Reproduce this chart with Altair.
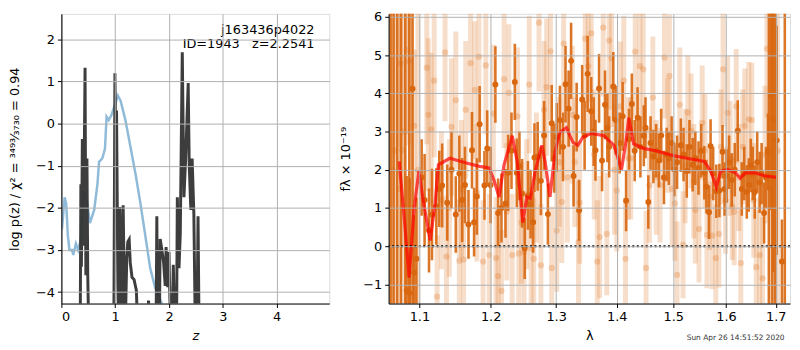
import altair as alt
import pandas as pd

# ---------------- Left panel: redshift PDF ----------------
blue_z = [0.01, 0.06, 0.09, 0.12, 0.15, 0.20, 0.22, 0.27, 0.31, 0.36, 0.41, 0.47, 0.53, 0.61,
          0.67, 0.70, 0.76, 0.81, 0.84, 0.88, 0.93, 0.98, 1.05, 1.10, 1.19, 1.28, 1.38, 1.47,
          1.56, 1.65, 1.74, 1.87, 1.95]
blue_logp = [-2.51, -1.75, -1.90, -2.66, -3.00, -3.00, -3.12, -2.85, -3.00, -2.77, -1.60, -1.82,
             -2.36, -2.05, -1.44, -0.91, -0.83, -0.60, 0.16, 0.08, 0.20, 0.39, 0.66, 0.54, 0.08,
             -0.53, -1.21, -1.90, -2.66, -3.43, -3.88, -4.28, -4.80]

dark_z = [0.35, 0.362, 0.372, 0.39, 0.41, 0.44, 0.455, 0.475, 0.49, 0.51,
          0.975, 0.995, 1.01, 1.025, 1.05, 1.065, 1.087, 1.11, 1.148, 1.17, 1.185, 1.215,
          1.234, 1.26, 1.28, 1.313, 1.35, 1.394, 1.42,
          1.60, 1.62, 1.64, 1.76, 1.774, 1.79, 1.82, 1.836, 1.865, 1.90, 1.93, 1.946, 1.976,
          2.0, 2.03, 2.06, 2.08, 2.11, 2.14, 2.155, 2.186, 2.21, 2.247, 2.278, 2.31, 2.357,
          2.376, 2.406, 2.43, 2.462, 2.49, 2.52, 2.54, 2.56]
dark_logp = [-5.0, -1.44, -3.40, -0.37, -2.90, 1.32, -3.60, -0.83, -3.60, -5.0,
             -5.0, 1.19, -0.50, 0.31, -3.80, -5.0, -1.98, -5.0, -1.94, -3.90, -5.0, -3.20,
             -2.81, -2.75, -3.30, -3.65, -3.70, -3.96, -5.0,
             -5.0, -4.20, -5.0, -5.0, -2.20, -5.0, -5.0, -2.74, -2.97, -3.30, -3.85, -2.93, -3.88,
             -3.05, -5.0, -5.0, -3.35, -5.0, -5.0, -1.75, -3.43, -2.60, 1.69, -1.75, -0.83, 0.96,
             -0.98, -2.05, -0.83, -2.13, -5.0, -5.0, -2.20, -5.0]

z_ticks = [0, 1, 2, 3, 4]
logp_ticks = [-4, -3, -2, -1, 0, 1, 2]

# ---------------- Right panel: spectrum ----------------
model_lam = [1.0731, 1.0796, 1.0862, 1.0927, 1.0992, 1.1058, 1.1146, 1.1213, 1.1258, 1.1417,
             1.1649, 1.1837, 1.1980, 1.2052, 1.2124, 1.2198, 1.2322, 1.2396, 1.2480, 1.2544,
             1.2597, 1.2671, 1.2775, 1.2825, 1.2903, 1.2981, 1.3059, 1.3164, 1.3269, 1.3349,
             1.3430, 1.3566, 1.3784, 1.3951, 1.4081, 1.4149, 1.4207, 1.4291, 1.4465, 1.4699,
             1.5000, 1.5303, 1.5579, 1.5705, 1.5811, 1.5895, 1.6024, 1.6184, 1.6281, 1.6379,
             1.6576, 1.6777, 1.7017]
model_flux = [2.22, 0.78, -0.82, 0.95, 1.96, 1.12, 0.15, 1.12, 2.13, 2.30,
              2.18, 2.09, 2.05, 1.71, 1.29, 2.13, 2.89, 2.22, 0.62, 1.29,
              1.25, 1.96, 2.64, 2.22, 1.29, 2.47, 2.98, 3.10, 2.72, 2.64,
              2.85, 2.95, 2.89, 2.64, 2.01, 2.64, 3.36, 2.68, 2.56, 2.49,
              2.37, 2.29, 2.22, 1.96, 1.54, 1.96, 2.01, 1.92, 1.78, 1.92,
              1.92, 1.84, 1.80]

# well-measured points (dark)
dark_lam = [1.0908, 1.093, 1.083, 1.087, 1.096, 1.103, 1.107, 1.113, 1.117, 1.123,
            1.127, 1.131, 1.138, 1.144, 1.150, 1.155, 1.159, 1.163, 1.168, 1.173,
            1.176, 1.180, 1.184, 1.191, 1.195, 1.200, 1.207, 1.211, 1.216, 1.222,
            1.226, 1.231, 1.236, 1.239, 1.243, 1.247, 1.251, 1.256, 1.260, 1.264,
            1.266, 1.271, 1.276, 1.281, 1.287, 1.293, 1.297, 1.301, 1.306, 1.311,
            1.315, 1.320, 1.324, 1.328, 1.333, 1.337, 1.342, 1.346, 1.351, 1.357,
            1.361, 1.364, 1.370, 1.375, 1.380, 1.384, 1.387, 1.394, 1.398, 1.405,
            1.410, 1.416, 1.421, 1.426, 1.431, 1.436, 1.441, 1.447, 1.450, 1.455,
            1.459, 1.464, 1.469, 1.474, 1.478, 1.483, 1.488, 1.492, 1.497, 1.502,
            1.507, 1.514, 1.519, 1.525, 1.530, 1.536, 1.541, 1.547, 1.552, 1.558,
            1.562, 1.567, 1.570, 1.575, 1.581, 1.587, 1.593, 1.597, 1.601, 1.606,
            1.611, 1.617, 1.623, 1.631, 1.636, 1.641, 1.645, 1.649, 1.653, 1.657,
            1.662, 1.667, 1.671, 1.676, 1.680, 1.684, 1.690, 1.695, 1.702, 1.713]
dark_flux = [4.12, -0.69, -1.16, -1.22, -0.33, 1.80, 1.21, 0.41, 0.83, 1.04,
             1.50, 1.59, 1.14, 2.00, 0.83, 1.90, 1.21, 1.60, 0.57, 2.51,
             0.63, 1.30, 3.19, 1.59, 2.56, 1.60, 4.23, 0.87, 1.00, 1.12,
             1.92, 2.50, 4.30, 1.92, 2.10, 1.38, -0.06, 1.33, 1.10, 0.63,
             2.32, 2.35, 1.71, 2.90, 0.84, 3.22, 2.30, 2.85, 3.30, 2.60,
             4.24, 3.60, 4.85, 1.84, 3.38, 0.94, 3.84, 2.90, 4.51, 3.53,
             3.00, 2.51, 4.13, 2.24, 3.70, 3.10, 2.60, 4.18, 3.30, 2.70,
             3.40, 1.19, 2.80, 3.72, 2.50, 3.36, 2.60, 2.89, 3.10, 1.16,
             2.70, 2.35, 2.50, 2.24, 2.90, 1.80, 2.40, 2.30, 2.70, 2.01,
             2.20, 2.64, 2.40, 1.97, 2.60, 2.13, 2.30, 2.05, 2.50, 1.92,
             1.56, 0.89, 2.62, 1.90, 1.44, 1.46, 2.47, 1.50, 1.84, 2.20,
             1.73, 2.00, 3.02, 1.50, 1.90, 1.42, 1.60, 2.11, 1.90, 1.42,
             2.20, 1.67, 1.90, 0.87, 1.80, 2.47, 3.95, 3.32, 2.77, -0.40]
dark_err = [6.0, 1.5, 3.0, 3.0, 1.6, 1.0, 1.2, 1.1, 1.2, 1.0,
            1.0, 1.1, 1.0, 1.0, 1.0, 1.0, 1.1, 1.0, 0.9, 1.0,
            0.9, 1.0, 1.0, 0.9, 1.0, 1.0, 1.0, 0.9, 0.9, 0.9,
            1.0, 1.0, 1.0, 0.9, 0.9, 0.9, 0.8, 0.9, 0.9, 0.8,
            0.9, 0.9, 0.9, 0.9, 0.8, 1.0, 0.9, 0.9, 0.9, 0.9,
            1.0, 1.0, 1.0, 0.8, 0.9, 0.8, 0.9, 0.9, 1.0, 0.9,
            0.9, 0.8, 0.9, 0.8, 0.9, 0.9, 0.8, 0.9, 0.9, 0.8,
            0.9, 0.8, 0.8, 0.8, 0.8, 0.8, 0.8, 0.8, 0.8, 0.7,
            0.7, 0.7, 0.7, 0.7, 0.7, 0.7, 0.7, 0.7, 0.7, 0.7,
            0.7, 0.7, 0.7, 0.7, 0.7, 0.7, 0.7, 0.7, 0.7, 0.7,
            0.7, 0.7, 0.7, 0.7, 0.7, 0.7, 0.7, 0.7, 0.7, 0.7,
            0.7, 0.7, 0.8, 0.7, 0.7, 0.7, 0.7, 0.7, 0.7, 0.7,
            0.8, 0.8, 0.8, 0.8, 0.8, 1.0, 3.0, 4.0, 3.0, 1.1]

# pixels with huge uncertainties at the band edges (values off the top of the panel)
edge_lam = [1.062, 1.0658, 1.0705, 1.0755, 1.0812, 1.0865, 1.686, 1.693, 1.699, 1.719]
edge_flux = [8.0, 8.0, 8.0, 8.0, 8.0, 8.0, 8.0, 8.0, 8.0, 8.0]
edge_err = [12.0, 12.0, 12.0, 12.0, 12.0, 12.0, 12.0, 12.0, 12.0, 12.0]

# poorly-measured points (light)
light_lam = [1.064, 1.068, 1.073, 1.075, 1.077, 1.078, 1.083, 1.086, 1.089, 1.093,
             1.098, 1.110, 1.112, 1.116, 1.120, 1.124, 1.130, 1.135, 1.137, 1.141,
             1.144, 1.150, 1.155, 1.158, 1.161, 1.164, 1.171, 1.177, 1.180, 1.183,
             1.189, 1.193, 1.198, 1.204, 1.208, 1.211, 1.216, 1.220, 1.224, 1.227,
             1.232, 1.240, 1.242, 1.246, 1.250, 1.254, 1.258, 1.261, 1.265, 1.269,
             1.273, 1.276, 1.281, 1.285, 1.291, 1.293, 1.301, 1.305, 1.309, 1.312,
             1.318, 1.326, 1.330, 1.336, 1.338, 1.347, 1.352, 1.357, 1.362, 1.367,
             1.371, 1.377, 1.383, 1.387, 1.391, 1.396, 1.400, 1.406, 1.412, 1.415,
             1.420, 1.424, 1.432, 1.440, 1.446, 1.451, 1.457, 1.463, 1.469, 1.476,
             1.484, 1.490, 1.493, 1.498, 1.503, 1.507, 1.512, 1.518, 1.522, 1.527,
             1.533, 1.538, 1.541, 1.548, 1.554, 1.559, 1.563, 1.568, 1.573, 1.580,
             1.586, 1.590, 1.594, 1.599, 1.603, 1.608, 1.612, 1.616, 1.620, 1.625,
             1.629, 1.633, 1.637, 1.645, 1.651, 1.655, 1.660, 1.667, 1.673, 1.678,
             1.682, 1.688, 1.697, 1.704]
light_flux = [2.0, 2.5, 1.5, 4.79, 2.51, 3.0, 5.13, 4.84, 1.0, 3.15,
              2.0, 4.67, 3.44, 3.06, 4.33, -1.32, 1.2, 5.07, -0.27, 1.0,
              3.12, 3.82, -0.38, 1.5, -0.35, 3.57, 4.79, 4.09, 1.4, 4.96,
              -0.40, 4.73, -0.23, 3.47, -0.31, -0.78, -1.17, 4.37, 0.9, 4.01,
              -0.23, 3.40, -0.19, 0.62, -0.16, 1.1, 4.23, -0.06, -0.33, 1.8,
              5.85, -0.50, 3.57, 4.16, 5.10, -0.57, 0.41, 2.2, 1.16, 5.30,
              1.8, 3.44, 2.2, 0.11, 1.14, 5.43, 4.71, 5.57, 2.4, -0.40,
              0.24, 5.72, 0.32, 5.38, 4.92, 2.0, 1.46, 3.66, 4.33, -0.33,
              2.3, 2.30, 5.09, 4.71, 4.63, -0.57, 1.59, 3.89, 1.80, 1.6,
              4.94, 2.9, 4.46, 1.5, 1.12, -0.75, 3.70, 0.04, 2.1, 3.50,
              3.02, 1.7, 0.95, 0.45, 3.23, 2.5, 0.30, 1.3, 0.28, -0.31,
              0.32, 2.6, 4.63, 1.2, 3.49, 2.3, 1.04, 0.9, 3.66, 1.8,
              -0.44, 2.6, 3.15, 3.32, 3.30, 1.2, -0.55, -0.23, -0.84, 2.4,
              5.17, 1.5, 2.0, 2.5]
light_err = [6.0, 6.0, 6.0, 2.2, 2.5, 6.0, 2.2, 2.2, 6.0, 2.0,
             6.0, 2.0, 2.0, 2.0, 2.0, 1.6, 1.8, 1.8, 1.6, 1.8,
             1.8, 1.8, 1.6, 1.8, 1.6, 1.8, 1.8, 1.8, 1.8, 1.8,
             1.6, 1.8, 1.6, 1.8, 1.6, 1.6, 1.6, 1.8, 1.8, 1.8,
             1.6, 1.8, 1.6, 1.6, 1.6, 1.7, 1.8, 1.6, 1.6, 1.7,
             1.8, 1.6, 1.8, 1.8, 1.8, 1.6, 1.6, 1.7, 1.6, 1.8,
             1.7, 1.8, 1.7, 1.6, 1.6, 1.8, 1.8, 1.8, 1.7, 1.6,
             1.6, 1.8, 1.6, 1.8, 1.8, 1.7, 1.6, 1.7, 1.7, 1.6,
             1.6, 1.6, 1.7, 1.7, 1.7, 1.5, 1.5, 1.6, 1.5, 1.5,
             1.6, 1.5, 1.6, 1.5, 1.5, 1.4, 1.5, 1.4, 1.5, 1.5,
             1.5, 1.5, 1.4, 1.4, 1.5, 1.5, 1.4, 1.4, 1.4, 1.4,
             1.4, 1.5, 1.5, 1.4, 1.5, 1.5, 1.4, 1.4, 1.5, 1.4,
             1.4, 1.5, 1.5, 1.5, 1.5, 1.5, 1.5, 1.5, 1.6, 1.8,
             1.8, 6.0, 6.0, 6.0]

lam_ticks = [1.1, 1.2, 1.3, 1.4, 1.5, 1.6, 1.7]
flux_ticks = [-1, 0, 1, 2, 3, 4, 5, 6]

NB = "\u00a0"
label_name = "j163436p4022"
label_id = "ID=1943" + NB * 3 + "z=2.2541"
stamp = "Sun Apr 26 14:51:52 2020"

# ---------------- tables ----------------
blue_df = pd.DataFrame({"z": blue_z, "logp": blue_logp})
dark_df = pd.DataFrame({"z": dark_z, "logp": dark_logp})
model_df = pd.DataFrame({"lam": model_lam, "flux": model_flux})
pts = pd.DataFrame({"lam": dark_lam + edge_lam, "flux": dark_flux + edge_flux,
                    "err": dark_err + edge_err})
pts["lo"] = pts["flux"] - pts["err"]
pts["hi"] = pts["flux"] + pts["err"]
lpts = pd.DataFrame({"lam": light_lam, "flux": light_flux, "err": light_err})
lpts["lo"] = lpts["flux"] - lpts["err"]
lpts["hi"] = lpts["flux"] + lpts["err"]

H = 293
FONT = "DejaVu Sans"
ax = dict(grid=True, gridColor="#b0b0b0", gridWidth=1, domainColor="black", tickColor="black",
          tickSize=4, labelFont=FONT, labelFontSize=13, labelColor="black", labelPadding=3,
          titleFont=FONT, titleFontSize=13, titleFontWeight="normal", titleColor="black", zindex=1)

zx = alt.X("z:Q", scale=alt.Scale(domain=[0, 4.98], nice=False, zero=False),
           axis=alt.Axis(values=z_ticks, format="d", title="z", titleFontStyle="italic",
                         titlePadding=6, **ax))
zy = alt.Y("logp:Q", scale=alt.Scale(domain=[-4.27, 2.6], nice=False, zero=False),
           axis=alt.Axis(values=logp_ticks, format="d",
                         title="log p(z) / χ² = ³⁴⁹³⁄₃₇₃₀ = 0.94", titlePadding=14, **ax))

blue = alt.Chart(blue_df).mark_line(color="#1f77b4", opacity=0.5, strokeWidth=2.5, clip=True).encode(x=zx, y=zy)
dark = alt.Chart(dark_df).mark_line(color="#333333", opacity=0.95, strokeWidth=3, clip=True).encode(x=zx, y=zy)
t1 = alt.Chart(blue_df.head(1)).mark_text(align="right", baseline="middle", font=FONT, fontSize=13,
                                          color="black").encode(
    x=alt.value(256), y=alt.value(16), text=alt.value(label_name))
t2 = alt.Chart(blue_df.head(1)).mark_text(align="right", baseline="middle", font=FONT, fontSize=13,
                                          color="black").encode(
    x=alt.value(256), y=alt.value(31), text=alt.value(label_id))

left = alt.layer(blue, dark, t1, t2).properties(width=271, height=H)

lx = alt.X("lam:Q", scale=alt.Scale(type="log", domain=[1.0594, 1.730], nice=False, zero=False),
           axis=alt.Axis(values=lam_ticks, format=".1f", title="λ", titlePadding=6, **ax))
fy = alt.Y("flux:Q", scale=alt.Scale(domain=[-1.5, 6.08], nice=False, zero=False),
           axis=alt.Axis(values=flux_ticks, format="d", title="fλ × 10⁻¹⁹", titlePadding=10, **ax))

ORANGE = "#d8670f"
lbars = alt.Chart(lpts).mark_rule(color="#e07a2a", opacity=0.25, strokeWidth=5, clip=True).encode(
    x=lx, y=alt.Y("lo:Q", scale=alt.Scale(domain=[-1.5, 6.08], nice=False, zero=False)), y2="hi:Q")
ldots = alt.Chart(lpts).mark_circle(color="#e07a2a", opacity=0.3, size=40, clip=True).encode(x=lx, y=fy)
dbars = alt.Chart(pts).mark_rule(color=ORANGE, opacity=0.9, strokeWidth=2.6, clip=True).encode(
    x=lx, y=alt.Y("lo:Q", scale=alt.Scale(domain=[-1.5, 6.08], nice=False, zero=False)), y2="hi:Q")
ddots = alt.Chart(pts).mark_circle(color=ORANGE, opacity=1, size=36, clip=True).encode(x=lx, y=fy)
mline = alt.Chart(model_df).mark_line(color="red", opacity=0.7, strokeWidth=3.2, clip=True).encode(x=lx, y=fy)
zero = alt.Chart(model_df.head(1)).mark_rule(color="black", strokeWidth=2.2, strokeDash=[2, 2.5]).encode(
    y=alt.datum(0, type="quantitative"))
stamp_t = alt.Chart(model_df.head(1)).mark_text(align="center", baseline="middle", font=FONT,
                                                fontSize=7.5, color="#333333").encode(
    x=alt.value(351), y=alt.value(328), text=alt.value(stamp))

right = alt.layer(lbars, ldots, dbars, ddots, mline, zero, stamp_t).properties(width=406, height=H)

chart = alt.hconcat(left, right, spacing=9).properties(padding=0).configure_view(
    stroke="black", strokeWidth=1).configure(background="white")

chart.save("out.html", embed_options={"renderer": "svg", "actions": False})
